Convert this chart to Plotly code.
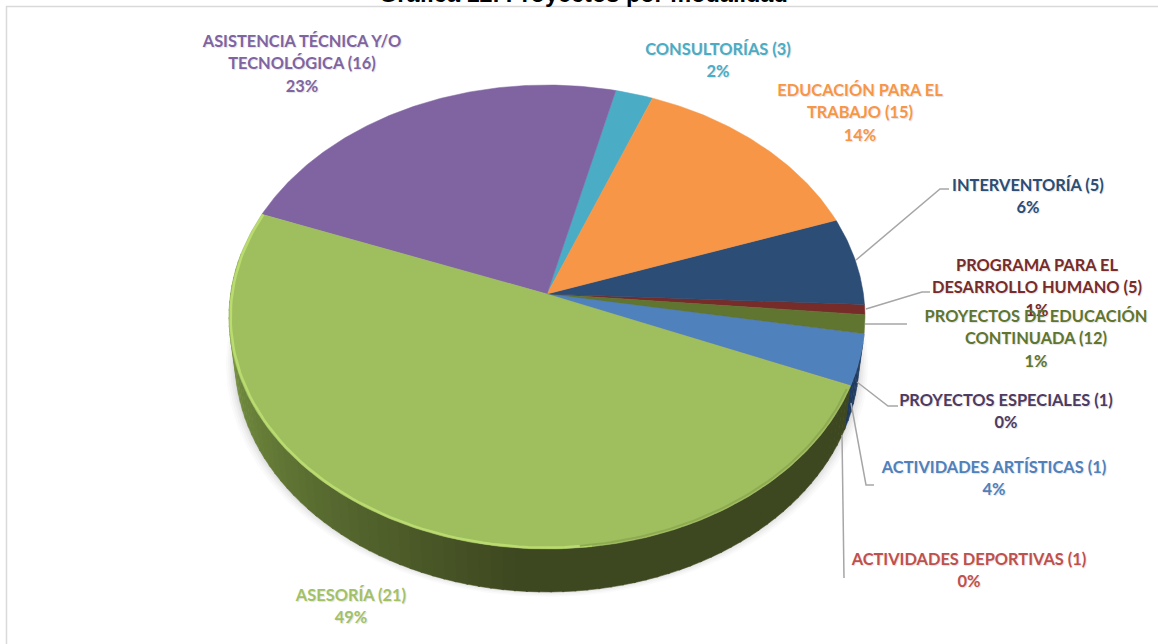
import numpy as np
import plotly.graph_objects as go

# ---------- data ----------
categories = ["ACTIVIDADES ARTÍSTICAS (1)", "ACTIVIDADES DEPORTIVAS (1)", "ASESORÍA (21)",
              "ASISTENCIA TÉCNICA Y/O TECNOLÓGICA (16)", "CONSULTORÍAS (3)",
              "EDUCACIÓN PARA EL TRABAJO (15)", "INTERVENTORÍA (5)",
              "PROGRAMA PARA EL DESARROLLO HUMANO (5)", "PROYECTOS DE EDUCACIÓN CONTINUADA (12)",
              "PROYECTOS ESPECIALES (1)"]
shares = [3.5, 0.03, 49.6, 23.0, 2.1, 13.7, 6.1, 0.7, 1.3, 0.03]
colors = ["#4F81BD", "#C0504D", "#9FBF5E", "#8064A2", "#4BACC6",
          "#F79646", "#2C4D75", "#772C2A", "#5F7530", "#4D3B62"]
label_colors = ["#4F81BD", "#C0504D", "#A2C165", "#8064A2", "#4BACC6",
                "#F79646", "#2C4D75", "#772C2A", "#5F7530", "#4D3B62"]
label_lines = [
    ["ACTIVIDADES ARTÍSTICAS (1)", "4%"],
    ["ACTIVIDADES DEPORTIVAS (1)", "0%"],
    ["ASESORÍA (21)", "49%"],
    ["ASISTENCIA TÉCNICA Y/O", "TECNOLÓGICA (16)", "23%"],
    ["CONSULTORÍAS (3)", "2%"],
    ["EDUCACIÓN PARA EL", "TRABAJO (15)", "14%"],
    ["INTERVENTORÍA (5)", "6%"],
    ["PROGRAMA PARA EL", "DESARROLLO HUMANO (5)", "1%"],
    ["PROYECTOS DE EDUCACIÓN", "CONTINUADA (12)", "1%"],
    ["PROYECTOS ESPECIALES (1)", "0%"],
]
title = "Gráfica 12. Proyectos por modalidad"

# ---------- layout of the drawing (pixels of the 1158x644 axes) ----------
W, H = 1158, 644
label_x = [994, 969, 351, 302, 718, 860, 1028, 1037, 1036, 1006]
label_y = [469, 561, 597, 43, 51, 92, 187, 267, 318, 402]
leaders = [
    [(851, 403), (866, 485), (874, 485)],
    [(842, 435), (844, 578)],
    [(856, 260), (940, 189), (949, 189)],
    [(866, 309), (922, 292), (930, 292)],
    [(865, 324), (907, 324)],
    [(857, 382), (888, 406), (898, 406)],
]
CX, CY = 547.0, 294.0      # pie apex
A, B, K = 229.7, 316.4, 0.0991   # perspective projection of the disc
DEPTH = 43.0
BOTTOM_SCALE = 0.981
START_DEG = 99.9


def project(theta_deg, r=1.0):
    t = np.radians(theta_deg)
    X, Y = r * np.sin(t), r * np.cos(t)
    d = 1 + K * Y
    return CX + B * X / d, CY - A * Y / d


def mix(c1, c2, f):
    a = [int(c1[i:i + 2], 16) for i in (1, 3, 5)]
    b = [int(c2[i:i + 2], 16) for i in (1, 3, 5)]
    return "#%02x%02x%02x" % tuple(round(a[i] + (b[i] - a[i]) * f) for i in range(3))


fig = go.Figure()
edges = START_DEG + np.concatenate([[0], np.cumsum(shares)]) * 3.6 / (sum(shares) / 100)


def poly(xs, ys, fill, line=None, lw=0.0):
    fig.add_trace(go.Scatter(x=xs, y=ys, mode="lines", fill="toself", fillcolor=fill,
                             line=dict(color=line or fill, width=lw), hoverinfo="skip",
                             showlegend=False))


def lower(x, y):
    return CX + (x - CX) * BOTTOM_SCALE, y + DEPTH


# soft shadow beneath the wall
ring = np.linspace(0, 360, 361)
for grow, alpha in [(9, .03), (7, .04), (5, .05), (3, .06), (1.5, .07)]:
    px, py = project(ring)
    qx, qy = lower(px, py)
    poly(CX + (qx - CX) * (1 + grow / 312), qy + grow * 0.75 - 2, "rgba(90,90,90,%s)" % alpha)

# wall, in strips, only in the front half of the disc
for i in range(len(shares)):
    a0, a1 = edges[i], edges[i + 1]
    lo, hi = max(a0, 80), min(a1, 280)
    if hi <= lo:
        continue
    n = max(1, int((hi - lo) / 2))
    steps = np.linspace(lo, hi, n + 1)
    for s0, s1 in zip(steps[:-1], steps[1:]):
        th = np.linspace(s0, s1 + 0.3, 4)
        x, y = project(th)
        bx, by = lower(x, y)
        if i == 2:  # large green slice: light at the left, dark at the front and right
            f = np.clip((270 - (s0 + s1) / 2) / 85, 0, 1)
            col = mix("#7C9A45", "#3E4820", f)
        else:
            col = "#1E3A5F"
        poly(np.r_[x, bx[::-1]], np.r_[y, by[::-1]], col, lw=0.5)

# top face of the slices; the thinnest are painted first so neighbours cover them
for i in np.argsort(shares):
    th = np.linspace(edges[i], edges[i + 1], max(3, int(shares[i] * 6)))
    x, y = project(th)
    poly(np.r_[CX, x, CX], np.r_[CY, y, CY], colors[i], lw=0.5)

# bevel highlight on the rim of the big slice
th = np.linspace(edges[2] + 60, edges[3], 80)
x, y = project(th, 0.995)
fig.add_trace(go.Scatter(x=x, y=y, mode="lines", line=dict(color="#B9DB70", width=2.5),
                         hoverinfo="skip", showlegend=False))
th = np.linspace(edges[2] + 1, edges[2] + 62, 60)
x, y = project(th, 0.993)
fig.add_trace(go.Scatter(x=x, y=y, mode="lines", line=dict(color="#8FAB52", width=2),
                         hoverinfo="skip", showlegend=False))

# leader lines
for pts in leaders:
    fig.add_trace(go.Scatter(x=[p[0] for p in pts], y=[p[1] for p in pts], mode="lines",
                             line=dict(color="#A6A6A6", width=1.5), hoverinfo="skip", showlegend=False))

# labels
LINE = 22.4
draw_order = [7, 8, 0, 1, 2, 3, 4, 5, 6, 9]
for i in draw_order:
    lines = label_lines[i]
    ys = [label_y[i] + k * LINE for k in range(len(lines))]
    fig.add_trace(go.Scatter(x=[label_x[i]] * len(lines), y=ys, mode="text", text=lines,
                             textposition="middle center",
                             textfont=dict(family="Lato", size=16.4, color=label_colors[i], weight="bold",
                                           shadow="1px 1px 1px rgba(0,0,0,0.12)"),
                             hoverinfo="skip", showlegend=False, cliponaxis=False))

fig.update_layout(
    width=W, height=H, margin=dict(l=0, r=0, t=0, b=0),
    paper_bgcolor="white", plot_bgcolor="white",
    xaxis=dict(range=[0, W], visible=False, fixedrange=True),
    yaxis=dict(range=[H, 0], visible=False, fixedrange=True),
    shapes=[
        dict(type="line", xref="x", yref="y", x0=6, x1=W, y0=6.5, y1=6.5, line=dict(color="#D9D9D9", width=1.5)),
        dict(type="line", xref="x", yref="y", x0=6.5, x1=6.5, y0=6, y1=H, line=dict(color="#D9D9D9", width=1.5)),
    ],
    annotations=[dict(text="<b>%s</b>" % title, x=583 / W, y=1, xref="paper", yref="paper", showarrow=False,
                      xanchor="center", yanchor="middle", yshift=6,
                      font=dict(family="Liberation Sans", size=23.5, color="black"))],
)
fig.write_html("out.html", config=dict(displayModeBar=False),
               post_script="document.body.style.margin='0';document.body.style.overflow='hidden';")
